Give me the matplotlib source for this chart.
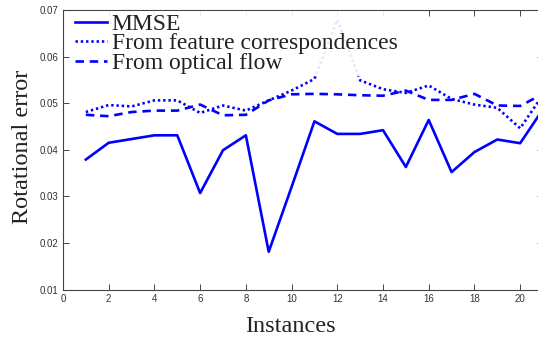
import matplotlib
matplotlib.use("Agg")
import matplotlib.pyplot as plt
import numpy as np

# values
instances = list(range(1, 22))
mmse = [0.0379, 0.0415, 0.0423, 0.0431, 0.0431, 0.0307, 0.0399, 0.0431, 0.0181, 0.0320,
        0.0461, 0.0434, 0.0434, 0.0442, 0.0363, 0.0464, 0.0352, 0.0395, 0.0422, 0.0414, 0.0487]
features = [0.0481, 0.0496, 0.0493, 0.0506, 0.0506, 0.0479, 0.0495, 0.0484, 0.0506, 0.0527,
            0.0552, 0.0679, 0.0549, 0.0530, 0.0522, 0.0538, 0.0509, 0.0497, 0.0490, 0.0446, 0.0518]
optical = [0.0475, 0.0472, 0.0481, 0.0484, 0.0484, 0.0497, 0.0474, 0.0475, 0.0506, 0.0519,
           0.0520, 0.0519, 0.0517, 0.0516, 0.0527, 0.0507, 0.0507, 0.0520, 0.0495, 0.0494, 0.0520]
labels = ['MMSE', 'From feature correspondences', 'From optical flow']

fig = plt.figure(figsize=(5.38, 3.41), dpi=100)
# axes runs slightly past the right edge, as in the cropped original
ax = fig.add_axes([63/538, 1 - 289.5/341, (543 - 63)/538, (289.5 - 10)/341])

blue = (0, 0, 1)
ax.plot(instances, mmse, color=blue, lw=1.9, label=labels[0])
ax.plot(instances, features, color=blue, lw=1.9, linestyle=(0, (0.9, 1.1)), label=labels[1])
ax.plot(instances, optical, color=blue, lw=1.9, linestyle=(0, (3.2, 2.2)), label=labels[2])

ax.set_xlim(0, 21)
ax.set_ylim(0.01, 0.07)
ax.set_xticks(np.arange(0, 21, 2))
ax.set_yticks(np.arange(0.01, 0.0701, 0.01))
ax.set_yticklabels([f'{v:.2f}' for v in np.arange(0.01, 0.0701, 0.01)])

for s in ax.spines.values():
    s.set_color('#444444')
    s.set_linewidth(0.8)
ax.tick_params(direction='in', length=4, width=0.7, color='#444444',
               labelsize=7, labelcolor='#333333', top=True, right=True, pad=3)
for t in ax.get_xticklabels() + ax.get_yticklabels():
    t.set_fontfamily('Liberation Sans')

ax.set_xlabel('Instances', fontsize=17.5, family='Liberation Serif', color='#222222')
ax.xaxis.set_label_coords(0.474, -0.095)
ax.set_ylabel('Rotational error', fontsize=17.5, family='Liberation Serif', color='#222222')
ax.yaxis.set_label_coords(-0.0625, 0.51)

leg = ax.legend(loc='upper left', bbox_to_anchor=(0.02, 0.996), frameon=True, fancybox=False,
                prop={'family': 'Liberation Serif', 'size': 17},
                handlelength=1.35, handletextpad=0.2, labelspacing=-0.09,
                borderaxespad=0.0, borderpad=0.1)
leg.get_frame().set_edgecolor('none')
leg.get_frame().set_facecolor('white')
leg.get_frame().set_alpha(0.9)
for t in leg.get_texts():
    t.set_color('#222222')

fig.savefig('out.png', dpi=100)
